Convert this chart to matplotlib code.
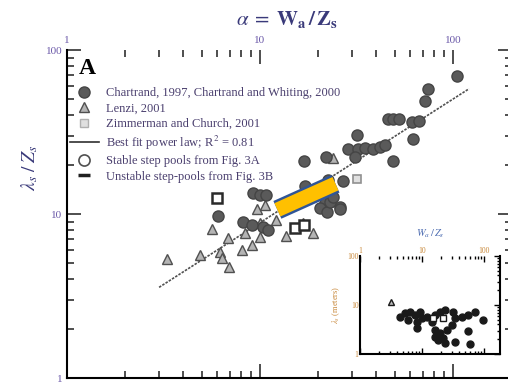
import numpy as np
import matplotlib
matplotlib.use("Agg")
import matplotlib.pyplot as plt
import matplotlib.patheffects as pe
from matplotlib.lines import Line2D

plt.rcParams["font.family"] = ["Liberation Serif", "DejaVu Serif"]
plt.rcParams["mathtext.fontset"] = "stix"

# Chartrand 1997, Chartrand and Whiting 2000 (alpha, lambda_s/Z_s)
chart_x = [104.5, 73.9, 71.6, 46.0, 48.9, 52.5, 61.1, 66.9, 62.3, 31.7, 28.7, 32.3,
           35.0, 38.6, 41.9, 44.4, 31.1, 49.1, 16.8, 22.0, 27.0, 22.6, 20.5, 21.7,
           26.0, 17.1, 9.23, 10.0, 10.8, 6.08, 8.19, 9.06, 10.4, 11.0, 20.5, 22.2,
           23.0, 23.9, 26.0, 14.3, 18.2]
chart_y = [69.7, 57.8, 49.1, 37.9, 37.9, 37.9, 36.5, 36.9, 28.5, 30.3, 24.8, 24.8,
           25.2, 24.8, 25.5, 26.4, 22.4, 21.1, 21.1, 22.2, 16.0, 16.1, 14.7, 11.7,
           11.1, 14.8, 13.5, 13.1, 13.1, 9.72, 8.98, 8.57, 8.37, 7.99, 10.9, 10.3,
           11.9, 12.7, 10.7, 11.3, 13.1]

# Lenzi 2001
lenzi_x = [3.28, 4.89, 5.62, 6.85, 6.21, 6.35, 6.93, 8.04, 9.06, 9.61, 10.6, 8.36,
           10.0, 12.1, 13.6, 18.9, 16.7, 10.0, 23.8]
lenzi_y = [5.28, 5.62, 8.10, 7.11, 5.87, 5.37, 4.73, 6.03, 6.47, 10.7, 11.3, 7.63,
           7.27, 9.19, 7.34, 7.71, 8.81, 8.81, 21.9]

# Zimmerman and Church 2001
zim_x = [31.8]
zim_y = [16.3]

# step pools from Fig. 3A / 3B (open squares)
step_x = [5.97, 15.2, 16.9]
step_y = [12.6, 8.18, 8.57]

# best fit power law
fit_a, fit_b = 1.56, 0.754
fit_x = [3.0, 121.0]
# highlighted range along the trend
band_x = [12.3, 24.6]
band_y = [10.6, 15.3]

# inset: lambda_s in meters vs W_a / Z_s
inset_x = [4.42, 5.32, 6.40, 7.71, 9.28, 9.89, 11.9, 8.2, 6.01, 14.3, 16.2, 19.5,
           23.5, 8.2, 16.2, 19.5, 22.1, 25.0, 30.1, 32.0, 34.0, 43.7, 55.8, 71.6,
           97.4, 55.8, 59.4, 34.0, 18.3, 23.5, 16.2]
inset_y = [5.77, 6.77, 7.3, 6.25, 7.3, 5.35, 5.77, 4.56, 4.94, 4.56, 6.25, 7.3,
           7.9, 3.35, 3.09, 2.64, 2.09, 3.09, 3.91, 7.3, 5.35, 5.77, 6.25, 7.3,
           4.94, 2.99, 1.58, 1.78, 1.93, 1.70, 2.25]
inset_tri_x = [3.16]
inset_tri_y = [11.7]
inset_sq_x = [15.2, 22.1]
inset_sq_y = [5.35, 5.35]

txt = "#4a3f6e"
tick_col = "#6a58a8"

fig = plt.figure(figsize=(5.08, 3.85), dpi=100)
ax = fig.add_axes([67 / 508, 7 / 385, 445 / 508, 328 / 385])
ax.set_xscale("log")
ax.set_yscale("log")
ax.set_xlim(1, 202)
ax.set_ylim(1, 100)

fx = np.array(fit_x)
ax.plot(fx, fit_a * fx ** fit_b, color="#505050", lw=1.2, ls=(0, (1.5, 0.8)), zorder=2)
ax.plot(lenzi_x, lenzi_y, "^", ms=7, mfc="#b4b4b4", mec="#505050", mew=1, ls="none", zorder=3)
ax.plot(chart_x, chart_y, "o", ms=8, mfc="#5a5a5a", mec="#454545", mew=1, ls="none", zorder=4)
ax.plot(zim_x, zim_y, "s", ms=6, mfc="#e0e0e0", mec="#909090", mew=1.2, ls="none", zorder=4)
ax.plot(step_x, step_y, "s", ms=7, mfc="white", mec="#2a2a2a", mew=1.8, ls="none", zorder=5)
ax.plot(band_x, band_y, color="#FFC000", lw=10.5, solid_capstyle="butt", zorder=6,
        path_effects=[pe.Stroke(linewidth=14, foreground="#2F5597"), pe.Normal()])

for s in ["top", "right"]:
    ax.spines[s].set_visible(False)
ax.spines["left"].set_linewidth(1.5)
ax.spines["bottom"].set_linewidth(1.5)
ax.tick_params(which="both", direction="in", top=True, right=True,
               labeltop=True, labelbottom=False, labelsize=8, colors="#303030",
               labelcolor=tick_col)
ax.tick_params(which="major", length=10, width=1.2)
ax.tick_params(which="minor", length=5, width=1.2)
ax.set_xticks([1, 10, 100])
ax.set_xticklabels(["1", "10", "100"])
ax.set_yticks([1, 10, 100])
ax.set_yticklabels(["1", "10", "100"])

fig.text(287 / 508, 1 - 20 / 385, r"$\alpha\;=\;\mathbf{W_a\,/\,Z_s}$", ha="center",
         va="center", fontsize=15, color="#3a3a7a")
fig.text(30 / 508, 1 - 168 / 385, r"$\lambda_s\;/\;Z_s$", ha="center", va="center",
         fontsize=14, rotation=90, color="#3a3a7a")
fig.text(79 / 508, 1 - 68 / 385, "A", fontsize=17, fontweight="bold", va="center")

handles = [
    Line2D([], [], marker="o", ms=8, mfc="#5a5a5a", mec="#454545", ls="none"),
    Line2D([], [], marker="^", ms=7, mfc="#b4b4b4", mec="#505050", ls="none"),
    Line2D([], [], marker="s", ms=6, mfc="#e0e0e0", mec="#b0b0b0", ls="none"),
    Line2D([], [], color="#303030", lw=1.2),
    Line2D([], [], marker="o", ms=8, mfc="white", mec="#505050", mew=1.2, ls="none"),
    Line2D([], [], marker="_", ms=8, mec="#202020", mew=2.5, ls="none"),
]
labels = ["Chartrand, 1997, Chartrand and Whiting, 2000", "Lenzi, 2001",
          "Zimmerman and Church, 2001", r"Best fit power law; R$^2$ = 0.81",
          "Stable step pools from Fig. 3A", "Unstable step-pools from Fig. 3B"]
leg = ax.legend(handles, labels, loc="upper left", bbox_to_anchor=(70 / 508, 1 - 87 / 385),
                bbox_transform=fig.transFigure, frameon=False, fontsize=9,
                handlelength=2.3, handletextpad=0.6, labelspacing=0.28, borderpad=0,
                borderaxespad=0)
for t in leg.get_texts():
    t.set_color(txt)

# inset
ins = fig.add_axes([360 / 508, 31 / 385, 140 / 508, 98 / 385])
ins.set_xscale("log")
ins.set_yscale("log")
ins.set_xlim(1, 180)
ins.set_ylim(1, 100)
ins.plot(inset_x, inset_y, "o", ms=5, mfc="#1a1a1a", mec="#1a1a1a", ls="none")
ins.plot(inset_tri_x, inset_tri_y, "^", ms=5, mfc="#bbbbbb", mec="#1a1a1a", ls="none")
ins.plot(inset_sq_x, inset_sq_y, "s", ms=4, mfc="white", mec="#1a1a1a", mew=1, ls="none")
ins.spines["top"].set_visible(False)
for s in ["left", "bottom", "right"]:
    ins.spines[s].set_linewidth(1.5)
ins.tick_params(which="both", direction="in", top=True, right=True, left=False,
                labeltop=True, labelbottom=False, labelsize=5.5, pad=1,
                labelcolor="#c8883a")
ins.tick_params(which="major", length=4, width=1)
ins.tick_params(which="minor", length=2.5, width=1)
ins.set_xticks([1, 10, 100])
ins.set_xticklabels(["1", "10", "100"])
ins.set_yticks([1, 10, 100])
ins.set_yticklabels(["1", "10", "100"])
ins.set_title(r"$W_a\,/\,Z_s$", fontsize=7.5, color="#4a6ab0", pad=7)
ins.set_ylabel(r"$\lambda_s$ (meters)", fontsize=6, color="#c8883a", labelpad=4)

fig.savefig("out.png", dpi=100)
